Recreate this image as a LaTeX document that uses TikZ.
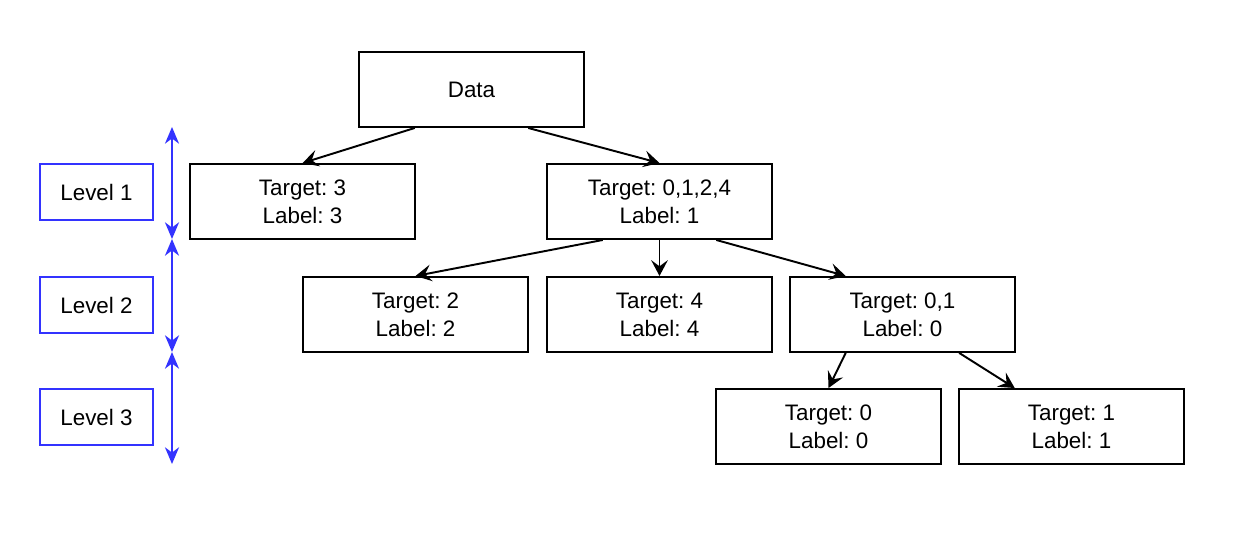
\documentclass[tikz,border=0pt]{standalone}
\usepackage{fontspec}
\setmainfont{Liberation Sans}
\usepackage{tikz}
\usetikzlibrary{positioning}
\usetikzlibrary{arrows.meta,calc}
\definecolor{levelblue}{RGB}{51,51,255}
\frenchspacing

\begin{document}
\begin{tikzpicture}[->,>={Stealth[length=9pt,width=9.5pt,inset=3.5pt]},line width=1.1pt,
        box/.style={draw,rectangle,minimum width=4.5cm,minimum height=1.5cm,
          align=center,inner sep=0pt,font=\fontsize{12.75}{15.9}\selectfont},
        levelbox/.style={draw=levelblue,rectangle,minimum width=2.26cm,minimum height=1.12cm,
          font=\fontsize{12.75}{15.9}\selectfont},
        levelarrow/.style={<->,draw=levelblue,line width=1.1pt,
          >={Stealth[length=9.5pt,width=8pt,inset=3pt]}}]

  \useasboundingbox (0,0) rectangle (24.72,-11.1);

  \node[box] (data) at (9.43,-1.79) {Data};
  \node[box] (t3) at (6.05,-4.03) {Target: 3\\Label: 3};
  \node[box] (t0124) at (13.19,-4.03) {Target: 0,1,2,4\\Label: 1};
  \node[box] (t4) [below=0.72cm of t0124] {Target: 4\\Label: 4};
  \node[box] (t2) [left=0.34cm of t4] {Target: 2\\Label: 2};
  \node[box] (t01) [right=0.32cm of t4] {Target: 0,1\\Label: 0};
  \node[box] (t0) at (16.57,-8.53) {Target: 0\\Label: 0};
  \node[box] (t1) [right=0.32cm of t0] {Target: 1\\Label: 1};

  \node[levelbox] (lv1) at (1.93,-3.84) {Level 1};
  \node[levelbox] (lv2) at (1.93,-6.10) {Level 2};
  \node[levelbox] (lv3) at (1.93,-8.34) {Level 3};

  \coordinate (m0) at (3.44,-2.54);
  \coordinate (m1) at (3.44,-4.78);
  \coordinate (m2) at (3.44,-7.04);
  \coordinate (m3) at (3.44,-9.28);

  \draw ($(data.south west)!0.25!(data.south east)$) -- (t3.north);
  \draw ($(data.south west)!0.75!(data.south east)$) -- (t0124.north);
  \draw ($(t0124.south west)!0.25!(t0124.south east)$) -- (t2.north);
  \draw (t0124.south) -- (t4.north);
  \draw ($(t0124.south west)!0.75!(t0124.south east)$) -- ($(t01.north west)!0.25!(t01.north east)$);
  \draw ($(t01.south west)!0.25!(t01.south east)$) -- (t0.north);
  \draw ($(t01.south west)!0.75!(t01.south east)$) -- ($(t1.north west)!0.25!(t1.north east)$);

  \draw[levelarrow] (m0) -- (m1);
  \draw[levelarrow] (m1) -- (m2);
  \draw[levelarrow] (m2) -- (m3);

\end{tikzpicture}
\end{document}
